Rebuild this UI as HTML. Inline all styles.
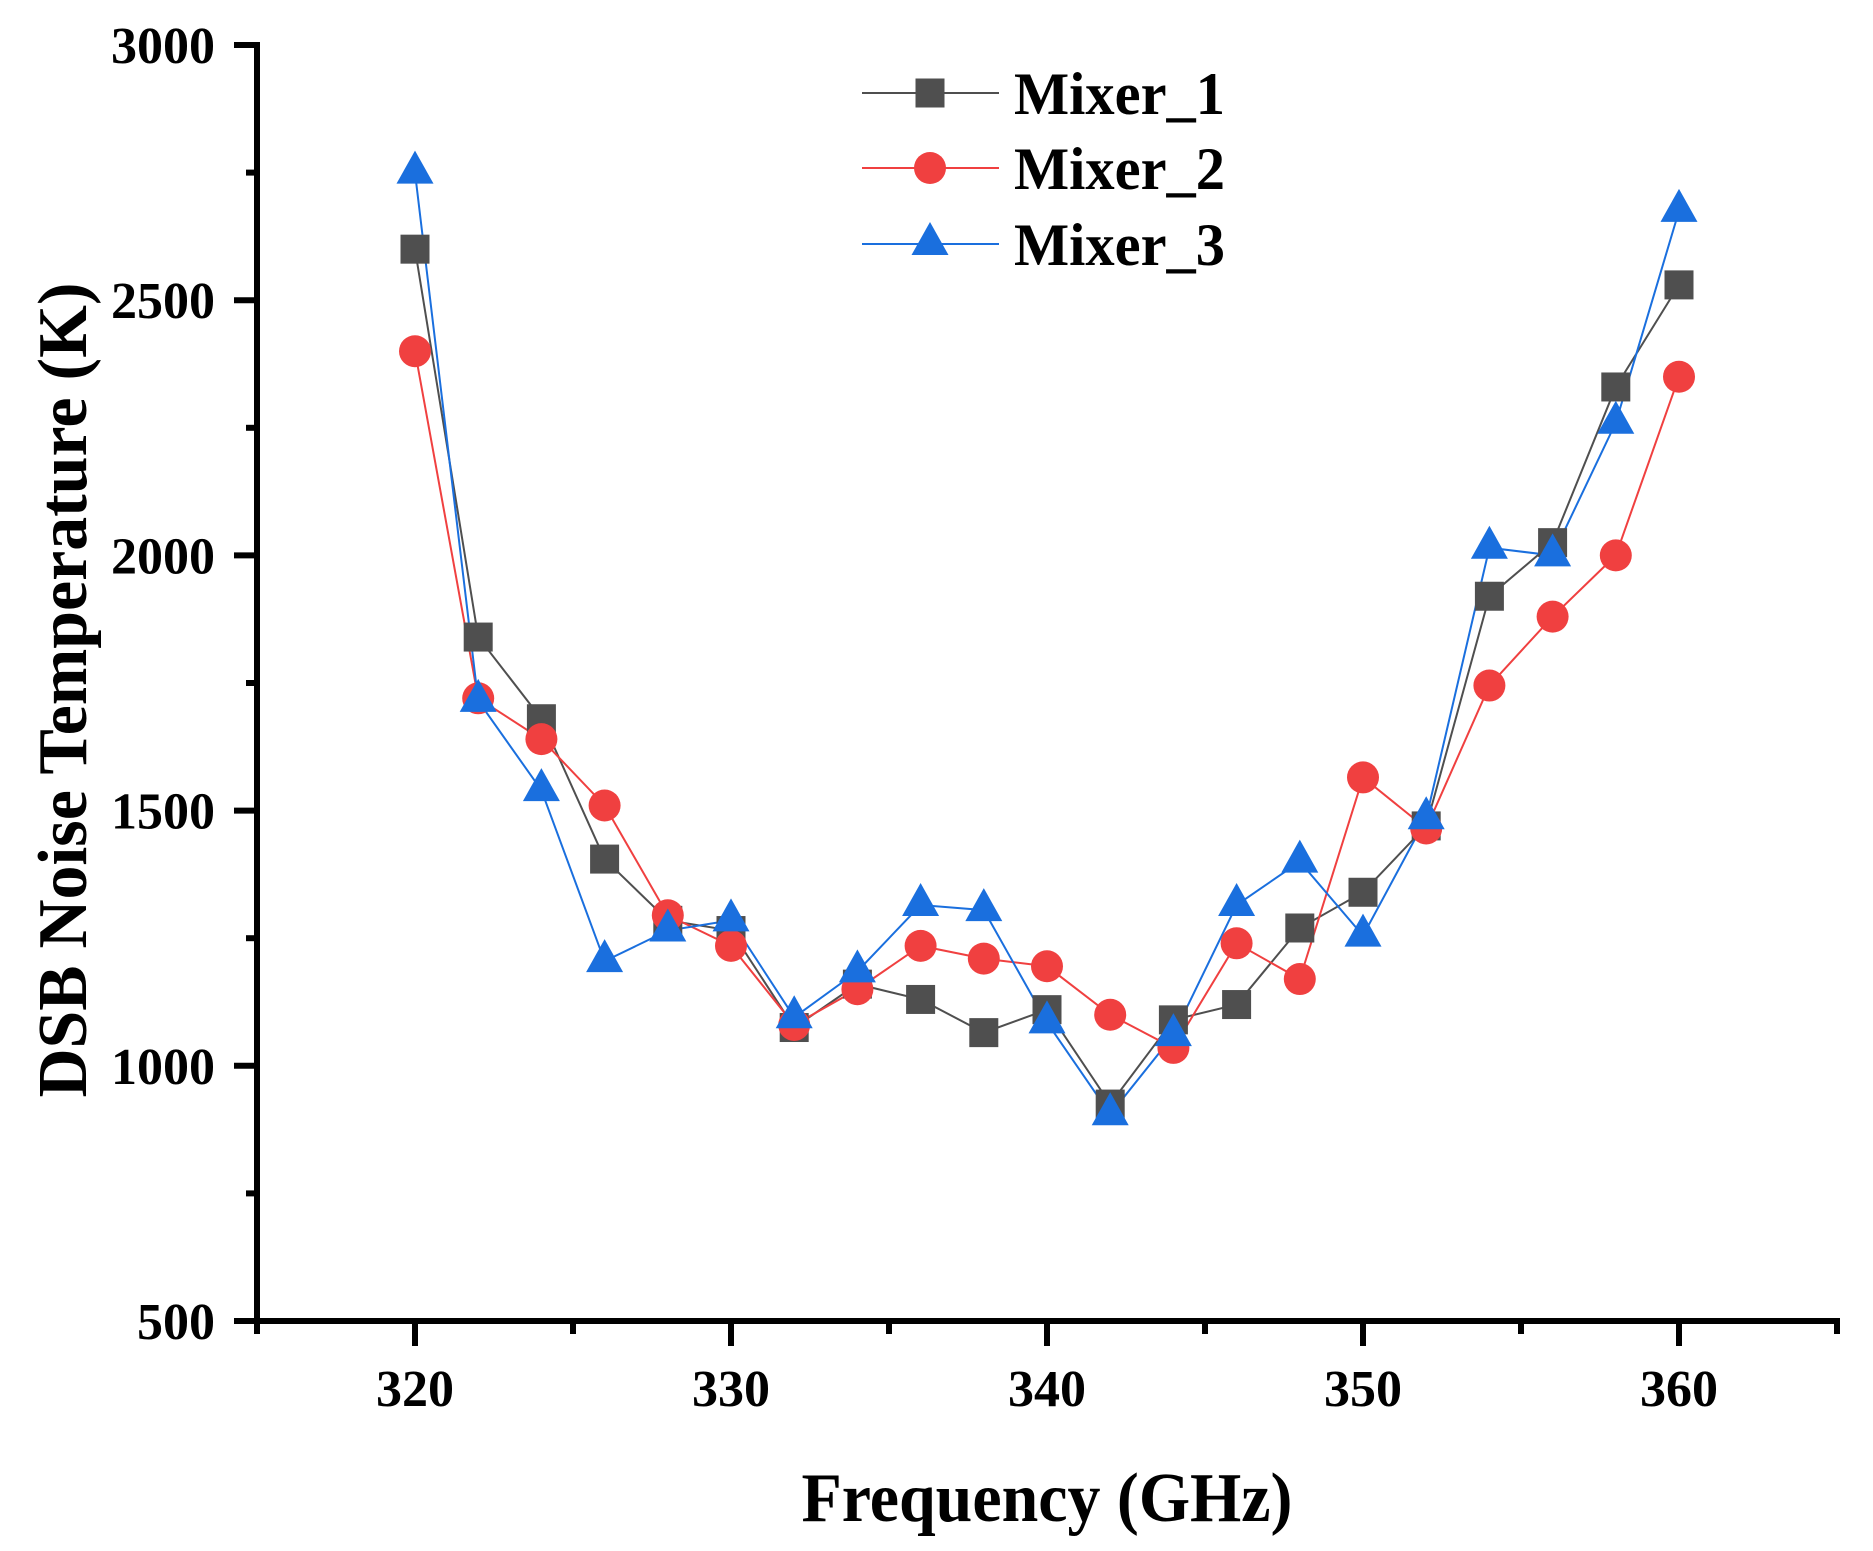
<!DOCTYPE html>
<html><head><meta charset="utf-8"><style>html,body{margin:0;padding:0;background:#fff}svg{display:block}</style></head><body>
<svg xmlns="http://www.w3.org/2000/svg" width="1873" height="1551" viewBox="0 0 1873 1551" font-family="'Liberation Serif',serif" font-weight="bold">
<rect width="1873" height="1551" fill="#fff"/>
<g stroke="#000" stroke-width="6" fill="none">
<line x1="257" y1="42" x2="257" y2="1324"/>
<line x1="254" y1="1321" x2="1840" y2="1321"/>
</g>
<g stroke="#000" stroke-width="6" id="ticks"></g>
<g font-size="52" text-anchor="end" id="ylab"></g>
<g font-size="52" text-anchor="middle" id="xlab"></g>
<text x="1047" y="1521" font-size="70" text-anchor="middle" textLength="491" lengthAdjust="spacingAndGlyphs">Frequency (GHz)</text>
<text transform="translate(86,690) rotate(-90)" font-size="70" text-anchor="middle" textLength="815" lengthAdjust="spacingAndGlyphs">DSB Noise Temperature (K)</text>
<g id="series"></g>
<g id="legend"></g>
<script>
var NS="http://www.w3.org/2000/svg";
function el(p,t,a,txt){var e=document.createElementNS(NS,t);for(var k in a)e.setAttribute(k,a[k]);if(txt)e.textContent=txt;document.getElementById(p).appendChild(e);return e;}
function X(f){return 257+(f-315)*31.6;}
function Y(v){return 1321-(v-500)*0.5104;}
for(var v=500;v<=3000;v+=250){var y=Y(v);el('ticks','line',{x1:v%500?246:234,y1:y,x2:257,y2:y});if(v%500==0)el('ylab','text',{x:215,y:y+18},''+v);}
for(var f=315;f<=365;f+=5){var x=X(f);el('ticks','line',{x1:x,y1:1321,x2:x,y2:f%10?1334:1346});if(f%10==0&&f>=320&&f<=360)el('xlab','text',{x:x,y:1406},''+f);}
var d=[
{c:'#4f4f4f',l:'#4f4f4f',m:'s',v:[2600,1840,1680,1405,1285,1265,1075,1160,1130,1065,1110,925,1090,1120,1270,1340,1470,1920,2025,2330,2530]},
{c:'#f04040',l:'#f04040',m:'c',v:[2400,1720,1640,1510,1295,1235,1080,1150,1235,1210,1195,1100,1035,1240,1170,1565,1465,1745,1880,2000,2350]},
{c:'#1a6fde',l:'#1a6fde',m:'t',v:[2750,1715,1540,1205,1265,1285,1095,1185,1315,1305,1085,905,1060,1315,1400,1255,1485,2015,2000,2260,2675]}];
function mk(p,m,x,y,c){
 if(m=='s')el(p,'rect',{x:x-14.5,y:y-14.5,width:29,height:29,fill:c});
 else if(m=='c')el(p,'circle',{cx:x,cy:y,r:16,fill:c});
 else el(p,'polygon',{points:(x)+','+(y-22)+' '+(x-18.5)+','+(y+11)+' '+(x+18.5)+','+(y+11),fill:c});
}
d.forEach(function(s,i){
 var pts=s.v.map(function(v,j){return X(320+2*j)+','+Y(v);}).join(' ');
 el('series','polyline',{points:pts,fill:'none',stroke:s.l,'stroke-width':2});
});
d.forEach(function(s){s.v.forEach(function(v,j){mk('series',s.m,X(320+2*j),Y(v),s.c);});});
var ly=[93,168,244],names=['Mixer_1','Mixer_2','Mixer_3'];
d.forEach(function(s,i){
 el('legend','line',{x1:862,y1:ly[i],x2:999,y2:ly[i],stroke:s.l,'stroke-width':2});
 mk('legend',s.m,930,ly[i],s.c);
 el('legend','text',{x:1014,y:ly[i]+21,'font-size':60,textLength:211,lengthAdjust:'spacingAndGlyphs'},names[i]);
});
</script>
</svg>
</body></html>
